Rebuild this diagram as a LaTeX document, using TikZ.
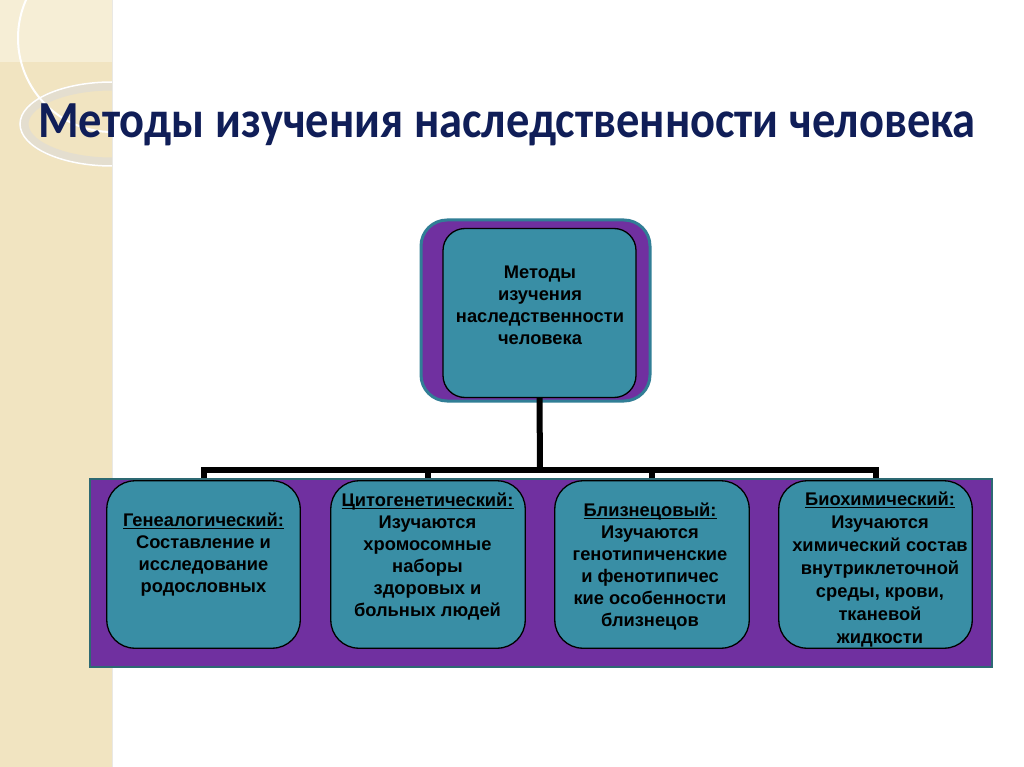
\documentclass[tikz,border=0pt]{standalone}
\usepackage{fontspec}
\setmainfont{Liberation Sans}
\newfontfamily\titlefont{Carlito}
\newcommand\hdr[1]{\setbox0\hbox{#1}\rlap{\rule[-2.4pt]{\wd0}{1.3pt}}\box0}
\definecolor{beige}{RGB}{241,228,193}
\definecolor{beigelight}{RGB}{246,238,214}
\definecolor{ringgrey}{RGB}{228,222,207}
\definecolor{navy}{RGB}{16,30,88}
\definecolor{tealfill}{RGB}{57,142,165}
\definecolor{tealborder}{RGB}{49,126,150}
\definecolor{bandborder}{RGB}{45,105,115}
\definecolor{purp}{RGB}{112,48,160}
\tikzset{
  outerbox/.style={draw=tealborder, line width=3pt, fill=purp, rounded corners=26pt},
  innerbox/.style={draw=black, line width=1.3pt, fill=tealfill, rounded corners=22pt},
  methodbox/.style={draw=black, line width=1.3pt, fill=tealfill, rounded corners=28pt},
  band/.style={draw=bandborder, line width=2pt, fill=purp},
  conn/.style={draw=black, line width=6pt},
  boxtext/.style={align=center, font=\fontsize{18.3}{22}\selectfont\bfseries, inner sep=0pt},
}
\begin{document}
\begin{tikzpicture}[x=1pt,y=-1pt]
\useasboundingbox (0,0) rectangle (1024,767);
\fill[white] (0,0) rectangle (1024,767);
% left decorative strip
\fill[beige] (0,0) rectangle (112,767);
\begin{scope}
\clip (0,0) rectangle (112,767);
\fill[beigelight] (0,0) rectangle (112,62);
\draw[ringgrey, line width=9pt] (112,124) ellipse [x radius=88, y radius=38];
\draw[white, line width=1.5pt] (112,124) ellipse [x radius=92, y radius=42];
\draw[white, line width=2pt] (112,38) circle [radius=94];
\end{scope}
\draw[ringgrey!80!black!30, line width=0.6pt] (112,0) -- (112,767);
% title
\node[anchor=base west, inner sep=0pt, text=navy, font=\titlefont\fontsize{46.5}{52}\selectfont\bfseries] (title) at (38,138) {\scalebox{1}[1.12]{Методы изучения наследственности человека}};
% top box
\node[outerbox, minimum width=229pt, minimum height=181pt] (outer) at (535.5,310.5) {};
\node[innerbox, minimum width=193pt, minimum height=169pt] (top) at (539.5,313) {};
\node[boxtext] (toptext) at (540,305) {Методы\\изучения\\наследственности\\человека};
% connectors
\coordinate (j) at (540,470);
\node[minimum width=193pt, minimum height=167pt, inner sep=0pt] (b1) at (203.5,564.5) {};
\node[minimum width=194pt, minimum height=167pt, inner sep=0pt] (b2) at (428,564.5) {};
\node[minimum width=194pt, minimum height=167pt, inner sep=0pt] (b3) at (652,564.5) {};
\node[minimum width=193pt, minimum height=167pt, inner sep=0pt] (b4) at (875.5,564.5) {};
\draw[conn] (top.south) -- (j);
\draw[conn] (b1.north) -- (b1.north |- j) -- (b4.north |- j) -- (b4.north);
\draw[conn] (b2.north) -- (b2.north |- j);
\draw[conn] (b3.north) -- (b3.north |- j);
% band
\node[band, minimum width=902pt, minimum height=188pt, inner sep=0pt] (band) at (541,573) {};
% method boxes
\draw[methodbox] (b1.south west) rectangle (b1.north east);
\draw[methodbox] (b2.south west) rectangle (b2.north east);
\draw[methodbox] (b3.south west) rectangle (b3.north east);
\draw[methodbox] (b4.south west) rectangle (b4.north east);
\node[boxtext] (t1) at (203.5,555) {\hdr{Генеалогический:}\\Составление и\\исследование\\родословных};
\node[boxtext] (t2) at (427.5,557) {\hdr{Цитогенетический:}\\Изучаются\\хромосомные\\наборы\\здоровых и\\больных людей};
\node[boxtext] (t3) at (650,567) {\hdr{Близнецовый:}\\Изучаются\\генотипиченские\\ и фенотипичес\\кие особенности\\близнецов};
\node[boxtext, font=\fontsize{18.3}{23}\selectfont\bfseries] (t4) at (880,570) {\hdr{Биохимический:}\\Изучаются\\химический состав\\внутриклеточной\\среды, крови,\\тканевой\\жидкости};
\end{tikzpicture}
\end{document}
